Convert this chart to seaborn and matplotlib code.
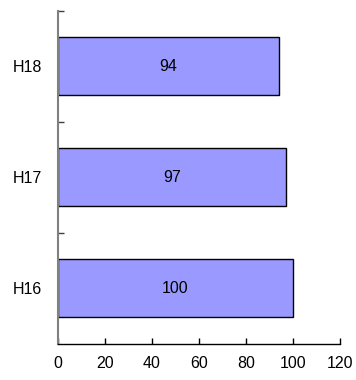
import matplotlib
matplotlib.use("Agg")
import matplotlib.pyplot as plt
import seaborn as sns
import pandas as pd
from matplotlib.ticker import FixedLocator

categories = ["H18", "H17", "H16"]
values = [94, 97, 100]
x_ticks = [0, 20, 40, 60, 80, 100, 120]

df = pd.DataFrame({"cat": categories, "val": values})

sns.set_style("white")
plt.rcParams["font.family"] = ["Liberation Sans", "DejaVu Sans"]
plt.rcParams["text.color"] = "black"
plt.rcParams["xtick.color"] = "black"
plt.rcParams["ytick.color"] = "black"

fig = plt.figure(figsize=(3.56, 3.80), dpi=100)
ax = fig.add_axes([0.162, 0.095, 0.793, 0.877])

sns.barplot(data=df, x="val", y="cat", order=categories, orient="h",
            color="#9999FF", saturation=1, width=0.52,
            edgecolor="black", linewidth=1.0, ax=ax)

for c in ax.containers:
    ax.bar_label(c, label_type="center", fontsize=11.5, color="black")

ax.set_xlim(0, 120)
ax.set_ylim(2.5, -0.5)
ax.set_xticks(x_ticks)
ax.set_xticklabels([str(t) for t in x_ticks], fontsize=11.5)
ax.set_xlabel("")
ax.set_ylabel("")
ax.tick_params(axis="y", which="major", left=True, length=0, pad=11,
               labelsize=11.5, labelcolor="black")
ax.yaxis.set_minor_locator(FixedLocator([-0.5, 0.5, 1.5]))
ax.tick_params(axis="y", which="minor", left=True, direction="in",
               length=4, width=1, color="#404040")
ax.tick_params(axis="x", which="major", bottom=True, direction="in",
               length=4, width=1, color="black", pad=9, labelcolor="black")

for s in ["top", "right"]:
    ax.spines[s].set_visible(False)
ax.spines["left"].set_color("#808080")
ax.spines["left"].set_linewidth(1.5)
ax.spines["bottom"].set_color("black")
ax.spines["bottom"].set_linewidth(1.0)

fig.savefig("out.png", dpi=100)
